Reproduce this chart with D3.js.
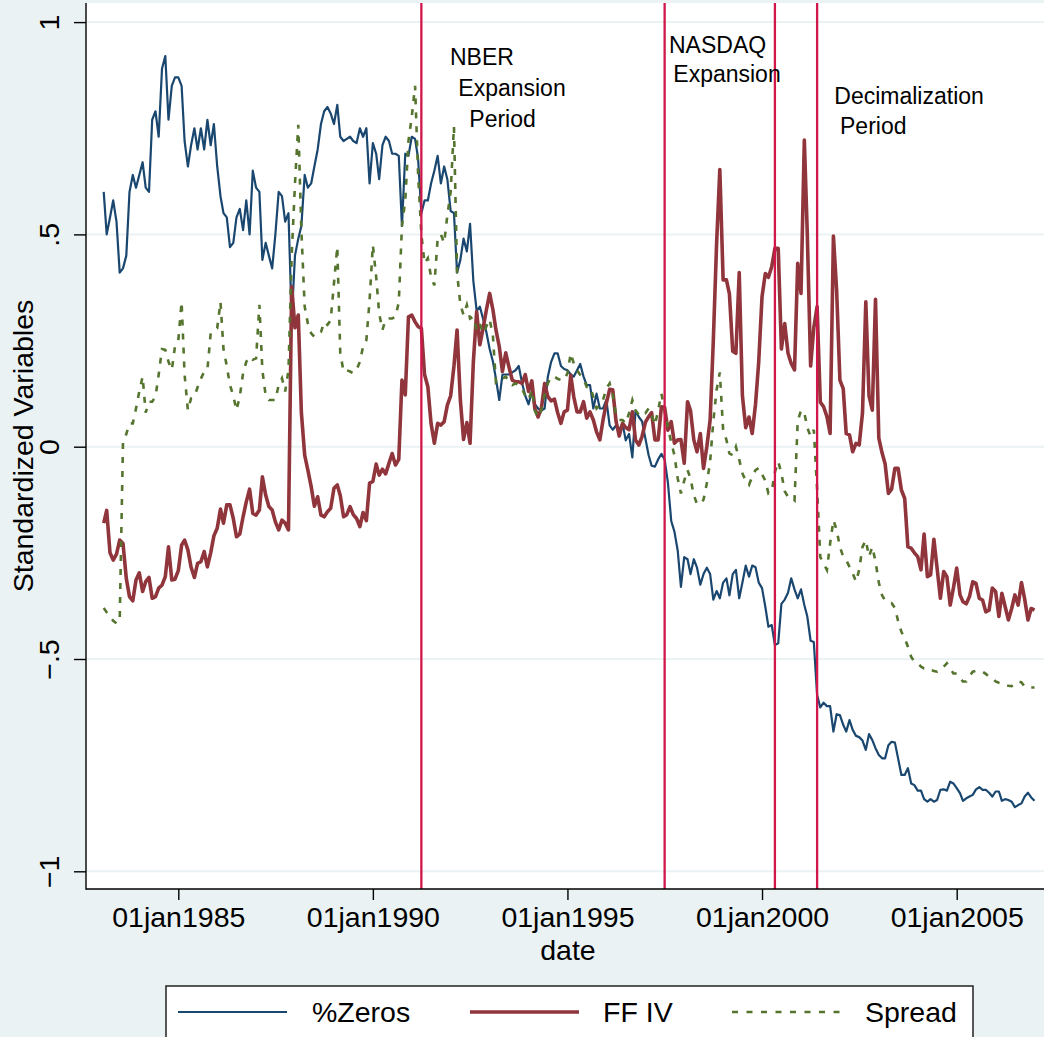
<!DOCTYPE html>
<html><head><meta charset="utf-8">
<script src="https://cdn.jsdelivr.net/npm/d3@7"></script>
<style>
html,body{margin:0;padding:0;background:#EAF2F3;}
svg{display:block;}
text{font-family:"Liberation Sans", Arial, Helvetica, sans-serif;fill:#000;}
</style>
</head><body>
<svg id="chart" width="1044" height="1037"></svg>
<script>
// ---- data: monthly series, first value = Feb 1983 ----
const startYear = 1983, startMonth = 1; // 0-based month (1 = Feb)

const zeros = [
  0.60, 0.50, 0.54, 0.58, 0.53, 0.41, 0.42, 0.45, 0.60, 0.64, 0.61,
  0.64, 0.67, 0.61, 0.60, 0.77, 0.79, 0.73, 0.89, 0.92, 0.77, 0.85, 0.87,
  0.87, 0.85, 0.72, 0.66, 0.71, 0.75, 0.70, 0.75, 0.70, 0.77, 0.71, 0.76,
  0.66, 0.59, 0.55, 0.54, 0.47, 0.48, 0.54, 0.56, 0.51, 0.58, 0.50, 0.65,
  0.61, 0.60, 0.44, 0.48, 0.45, 0.42, 0.50, 0.60, 0.59, 0.53, 0.55, 0.30,
  0.45, 0.49, 0.52, 0.64, 0.61, 0.62, 0.66, 0.70, 0.76, 0.79, 0.80, 0.785,
  0.76, 0.805, 0.73, 0.72, 0.725, 0.73, 0.72, 0.715, 0.75, 0.73, 0.75, 0.62,
  0.715, 0.69, 0.63, 0.71, 0.73, 0.72, 0.69, 0.69, 0.685, 0.52, 0.69, 0.685,
  0.73, 0.725, 0.68, 0.55, 0.58, 0.58, 0.62, 0.65, 0.685, 0.62, 0.66, 0.63,
  0.555, 0.55, 0.41, 0.44, 0.49, 0.46, 0.525, 0.39, 0.32, 0.33, 0.30, 0.27,
  0.23, 0.20, 0.16, 0.11, 0.17, 0.17, 0.17, 0.175, 0.18, 0.19, 0.15, 0.12,
  0.10, 0.13, 0.10, 0.09, 0.085, 0.09, 0.165, 0.20, 0.22, 0.22, 0.19, 0.183,
  0.18, 0.17, 0.165, 0.18, 0.195, 0.165, 0.145, 0.145, 0.09, 0.125, 0.09, 0.09,
  0.11, 0.05, 0.04, 0.05, 0.04, 0.055, 0.015, 0.03, -0.025, 0.085, 0.07, 0.06,
  0.02, -0.02, -0.045, -0.047, -0.03, -0.017, -0.03, -0.085, -0.175, -0.2, -0.245, -0.33,
  -0.26, -0.265, -0.30, -0.265, -0.285, -0.325, -0.30, -0.285, -0.30, -0.36, -0.34, -0.357,
  -0.32, -0.31, -0.35, -0.30, -0.29, -0.357, -0.32, -0.28, -0.306, -0.28, -0.284, -0.32,
  -0.333, -0.377, -0.424, -0.42, -0.467, -0.463, -0.37, -0.36, -0.344, -0.31, -0.336, -0.357,
  -0.336, -0.373, -0.40, -0.457, -0.46, -0.585, -0.614, -0.603, -0.611, -0.611, -0.671, -0.63,
  -0.632, -0.655, -0.671, -0.644, -0.667, -0.681, -0.684, -0.692, -0.714, -0.677, -0.691, -0.71,
  -0.726, -0.734, -0.734, -0.703, -0.695, -0.697, -0.734, -0.773, -0.773, -0.757, -0.793, -0.797,
  -0.81, -0.81, -0.83, -0.836, -0.83, -0.836, -0.832, -0.808, -0.807, -0.81, -0.789, -0.793,
  -0.804, -0.816, -0.834, -0.828, -0.824, -0.82, -0.807, -0.802, -0.808, -0.808, -0.815, -0.824,
  -0.812, -0.812, -0.834, -0.83, -0.832, -0.836, -0.849, -0.844, -0.84, -0.824, -0.815, -0.826,
  -0.834
];

const ffiv = [
  -0.18, -0.15, -0.25, -0.267, -0.253, -0.22, -0.228, -0.31, -0.353, -0.363, -0.314,
  -0.297, -0.341, -0.318, -0.308, -0.357, -0.353, -0.333, -0.326, -0.306, -0.236, -0.314, -0.312,
  -0.292, -0.232, -0.22, -0.243, -0.284, -0.308, -0.275, -0.271, -0.247, -0.283, -0.25, -0.21,
  -0.192, -0.147, -0.18, -0.137, -0.137, -0.169, -0.212, -0.206, -0.165, -0.13, -0.10, -0.157,
  -0.161, -0.149, -0.071, -0.114, -0.141, -0.149, -0.177, -0.196, -0.173, -0.18, -0.196, 0.377,
  0.28, 0.31, 0.08, -0.02, -0.055, -0.094, -0.14, -0.118, -0.161, -0.165, -0.153, -0.145,
  -0.098, -0.09, -0.115, -0.165, -0.16, -0.141, -0.16, -0.169, -0.188, -0.155, -0.174, -0.086,
  -0.082, -0.041, -0.067, -0.053, -0.064, -0.039, -0.016, -0.043, -0.03, 0.157, 0.122, 0.306,
  0.31, 0.294, 0.283, 0.279, 0.17, 0.141, 0.055, 0.008, 0.055, 0.051, 0.059, 0.098,
  0.12, 0.19, 0.275, 0.11, 0.017, 0.057, 0.008, 0.2, 0.318, 0.24, 0.28, 0.322,
  0.361, 0.322, 0.275, 0.236, 0.177, 0.221, 0.188, 0.157, 0.153, 0.153, 0.149, 0.17,
  0.13, 0.155, 0.09, 0.07, 0.09, 0.149, 0.118, 0.108, 0.112, 0.08, 0.055, 0.082,
  0.086, 0.169, 0.118, 0.082, 0.082, 0.106, 0.067, 0.082, 0.063, 0.035, 0.016, 0.063,
  0.102, 0.135, 0.134, 0.06, 0.025, 0.055, 0.045, 0.04, 0.082, 0.016, 0.004, 0.024,
  0.057, 0.071, 0.08, 0.016, 0.016, 0.094, 0.093, 0.039, 0.059, 0.008, 0.016, 0.017,
  -0.039, 0.106, 0.085, 0.016, -0.012, 0.031, -0.051, 0.0, 0.063, 0.25, 0.48, 0.653,
  0.393, 0.393, 0.36, 0.225, 0.22, 0.41, 0.12, 0.045, 0.07, 0.031, 0.1, 0.2,
  0.353, 0.408, 0.399, 0.424, 0.467, 0.467, 0.23, 0.29, 0.22, 0.196, 0.181, 0.432,
  0.361, 0.722, 0.5, 0.19, 0.28, 0.33, 0.105, 0.094, 0.071, 0.031, 0.496, 0.369,
  0.157, 0.137, 0.031, 0.028, -0.012, 0.008, 0.004, 0.08, 0.341, 0.12, 0.086, 0.347,
  0.02, -0.015, -0.04, -0.11, -0.1, -0.051, -0.051, -0.102, -0.122, -0.236, -0.239, -0.25,
  -0.259, -0.29, -0.206, -0.306, -0.302, -0.218, -0.286, -0.357, -0.294, -0.306, -0.373, -0.333,
  -0.286, -0.349, -0.365, -0.37, -0.353, -0.318, -0.322, -0.357, -0.361, -0.389, -0.385, -0.333,
  -0.341, -0.40, -0.345, -0.377, -0.408, -0.381, -0.349, -0.373, -0.32, -0.359, -0.408, -0.381,
  -0.385
];

const spread = [
  -0.38, -0.39, -0.40, -0.41, -0.416, -0.41, 0.01, 0.03, 0.055, 0.055, 0.09,
  0.13, 0.165, 0.08, 0.106, 0.106, 0.118, 0.17, 0.23, 0.228, 0.2, 0.181, 0.236,
  0.25, 0.341, 0.17, 0.086, 0.114, 0.118, 0.14, 0.16, 0.177, 0.181, 0.267, 0.275,
  0.279, 0.341, 0.23, 0.19, 0.145, 0.12, 0.086, 0.118, 0.173, 0.2, 0.212, 0.205,
  0.208, 0.334, 0.18, 0.12, 0.11, 0.11, 0.11, 0.145, 0.161, 0.13, 0.18, 0.45,
  0.62, 0.758, 0.51, 0.33, 0.29, 0.267, 0.259, 0.263, 0.27, 0.294, 0.287, 0.298,
  0.385, 0.471, 0.22, 0.177, 0.18, 0.177, 0.173, 0.181, 0.2, 0.236, 0.251, 0.345,
  0.475, 0.40, 0.314, 0.275, 0.30, 0.302, 0.302, 0.306, 0.34, 0.52, 0.58, 0.72,
  0.777, 0.85, 0.644, 0.5, 0.432, 0.444, 0.40, 0.38, 0.49, 0.50, 0.48, 0.545,
  0.6, 0.754, 0.41, 0.335, 0.31, 0.334, 0.302, 0.306, 0.275, 0.29, 0.267, 0.283,
  0.30, 0.26, 0.15, 0.153, 0.16, 0.165, 0.153, 0.145, 0.149, 0.145, 0.137, 0.12,
  0.11, 0.134, 0.085, 0.069, 0.086, 0.122, 0.149, 0.165, 0.165, 0.16, 0.157, 0.157,
  0.173, 0.22, 0.196, 0.18, 0.169, 0.16, 0.141, 0.141, 0.118, 0.09, 0.098, 0.11,
  0.137, 0.149, 0.122, 0.075, 0.063, 0.063, 0.055, 0.079, 0.11, 0.086, 0.075, 0.082,
  0.079, 0.09, 0.075, 0.051, 0.086, 0.125, 0.085, 0.045, 0.01, -0.02, -0.075, -0.11,
  -0.08, -0.055, -0.075, -0.114, -0.135, -0.135, -0.125, -0.086, -0.035, 0.06, 0.134, 0.175,
  0.04, 0.016, -0.016, -0.02, 0.0, -0.03, -0.063, -0.08, -0.09, -0.07, -0.055, -0.05,
  -0.065, -0.08, -0.11, -0.105, -0.06, -0.035, -0.063, -0.105, -0.118, -0.118, -0.126, 0.06,
  0.086, 0.08, 0.045, 0.024, 0.04, -0.1, -0.26, -0.275, -0.29, -0.228, -0.173, -0.196,
  -0.236, -0.259, -0.267, -0.283, -0.298, -0.318, -0.29, -0.236, -0.22, -0.259, -0.236, -0.27,
  -0.32, -0.35, -0.362, -0.365, -0.368, -0.38, -0.41, -0.436, -0.451, -0.471, -0.495, -0.506,
  -0.51, -0.518, -0.522, -0.522, -0.526, -0.528, -0.53, -0.526, -0.518, -0.51, -0.522, -0.534,
  -0.534, -0.545, -0.553, -0.553, -0.54, -0.53, -0.528, -0.53, -0.53, -0.535, -0.542, -0.545,
  -0.553, -0.556, -0.558, -0.561, -0.563, -0.564, -0.558, -0.553, -0.555, -0.565, -0.566, -0.567,
  -0.567
];

const seriesNames = ["%Zeros", "FF IV", "Spread"];
const yTicks = [-1, -0.5, 0, 0.5, 1];
const yTickLabels = ["\u22121", "\u2212.5", "0", ".5", "1"];
const xTickYears = [1985, 1990, 1995, 2000, 2005];
const xTickLabels = ["01jan1985", "01jan1990", "01jan1995", "01jan2000", "01jan2005"];
const eventDates = ["1991-04-01", "1997-07-01", "2000-05-01", "2001-06-01"];
const noteLines = [
  ["NBER", "Expansion", "Period"],
  ["NASDAQ", "Expansion"],
  ["Decimalization", "Period"]
];

// ---- layout ----
const W = 1044, H = 1037;
const plot = {left: 86, right: 1051, top: 3, bottom: 889};
const colors = {zeros: "#1A476F", ffiv: "#90353B", spread: "#55752F", event: "#D0164A", bg: "#EAF2F3"};
const FS = 28.5;

const svg = d3.select("#chart");
svg.append("rect").attr("width", W).attr("height", H).attr("fill", colors.bg);
svg.append("rect").attr("x", plot.left).attr("y", plot.top)
  .attr("width", plot.right - plot.left).attr("height", plot.bottom - plot.top).attr("fill", "#fff");

const x = d3.scaleUtc()
  .domain([new Date(Date.UTC(1985, 0, 1)), new Date(Date.UTC(2005, 0, 1))])
  .range([178.3, 956.7]);
const y = d3.scaleLinear().domain([-1, 1]).range([871.3, 22.1]);

const dateOf = i => new Date(Date.UTC(startYear, startMonth + i, 1));

// gridlines
svg.append("g").selectAll("line").data(yTicks).join("line")
  .attr("x1", plot.left).attr("x2", plot.right)
  .attr("y1", d => y(d)).attr("y2", d => y(d))
  .attr("stroke", colors.bg).attr("stroke-width", 2);

// series
const clip = svg.append("clipPath").attr("id", "pc").append("rect")
  .attr("x", plot.left).attr("y", plot.top).attr("width", plot.right - plot.left).attr("height", plot.bottom - plot.top);
const g = svg.append("g").attr("clip-path", "url(#pc)");
const line = d3.line().x((d, i) => x(dateOf(i))).y(d => y(d));

g.append("path").datum(zeros).attr("d", line).attr("fill", "none")
  .attr("stroke", colors.zeros).attr("stroke-width", 2.2).attr("stroke-linejoin", "round");
g.append("path").datum(ffiv).attr("d", line).attr("fill", "none")
  .attr("stroke", colors.ffiv).attr("stroke-width", 3.6).attr("stroke-linejoin", "round");
g.append("path").datum(spread).attr("d", line).attr("fill", "none")
  .attr("stroke", colors.spread).attr("stroke-width", 2.6).attr("stroke-dasharray", "6,8");

// event lines
g.selectAll("line.ev").data(eventDates).join("line").attr("class", "ev")
  .attr("x1", d => x(new Date(d + "T00:00:00Z"))).attr("x2", d => x(new Date(d + "T00:00:00Z")))
  .attr("y1", plot.top).attr("y2", plot.bottom)
  .attr("stroke", colors.event).attr("stroke-width", 2.3);

// annotations
const notePos = [
  [[450, 65], [458.3, 95.5], [469.3, 126.5]],
  [[669, 52.7], [673.3, 81.5]],
  [[834.3, 104], [840, 133.5]]
];
noteLines.forEach((lines, k) => lines.forEach((t, j) => {
  svg.append("text").attr("x", notePos[k][j][0]).attr("y", notePos[k][j][1])
    .attr("font-size", 23).text(t);
}));

// axes
const yAxis = d3.axisLeft(y).tickValues(yTicks).tickSize(12).tickFormat((d, i) => yTickLabels[i]);
const ya = svg.append("g").attr("transform", `translate(${plot.left},0)`).call(yAxis);
ya.select(".domain").remove();
ya.selectAll(".tick line").attr("stroke", "#000").attr("stroke-width", 1.4);
ya.selectAll(".tick text")
  .attr("x", null).attr("dy", null)
  .attr("transform", "translate(-26.7,0) rotate(-90)")
  .attr("text-anchor", "middle").attr("font-size", FS)
  .attr("font-family", "Liberation Sans, Arial, sans-serif").attr("fill", "#000");
svg.append("line").attr("x1", plot.left).attr("x2", plot.left).attr("y1", plot.top).attr("y2", plot.bottom + 0.7)
  .attr("stroke", "#000").attr("stroke-width", 1.4);

const xAxis = d3.axisBottom(x).tickValues(xTickYears.map(yy => new Date(Date.UTC(yy, 0, 1))))
  .tickSize(11).tickFormat((d, i) => xTickLabels[i]);
const xa = svg.append("g").attr("transform", `translate(0,${plot.bottom})`).call(xAxis);
xa.select(".domain").remove();
xa.selectAll(".tick line").attr("stroke", "#000").attr("stroke-width", 1.4);
xa.selectAll(".tick text").attr("y", 38).attr("dy", null).attr("font-size", FS)
  .attr("font-family", "Liberation Sans, Arial, sans-serif").attr("fill", "#000");
svg.append("line").attr("x1", plot.left).attr("x2", plot.right).attr("y1", plot.bottom).attr("y2", plot.bottom)
  .attr("stroke", "#000").attr("stroke-width", 1.4);

// axis titles
svg.append("text").attr("x", 568).attr("y", 960).attr("text-anchor", "middle").attr("font-size", FS).text("date");
svg.append("text").attr("transform", "translate(33,446) rotate(-90)").attr("text-anchor", "middle")
  .attr("font-size", FS).text("Standardized Variables");

// legend
svg.append("rect").attr("x", 166).attr("y", 986).attr("width", 807).attr("height", 120)
  .attr("fill", "#fff").attr("stroke", "#222").attr("stroke-width", 1.5);
const legendItems = [
  {name: seriesNames[0], color: colors.zeros, w: 2.2, dash: null, x0: 178, tx: 312},
  {name: seriesNames[1], color: colors.ffiv, w: 3.6, dash: null, x0: 470, tx: 603},
  {name: seriesNames[2], color: colors.spread, w: 2.6, dash: "6,8.5", x0: 732, tx: 865}
];
legendItems.forEach(it => {
  svg.append("line").attr("x1", it.x0).attr("x2", it.x0 + 109).attr("y1", 1012).attr("y2", 1012)
    .attr("stroke", it.color).attr("stroke-width", it.w).attr("stroke-dasharray", it.dash);
  svg.append("text").attr("x", it.tx).attr("y", 1022).attr("font-size", FS).text(it.name);
});
</script>
</body></html>
